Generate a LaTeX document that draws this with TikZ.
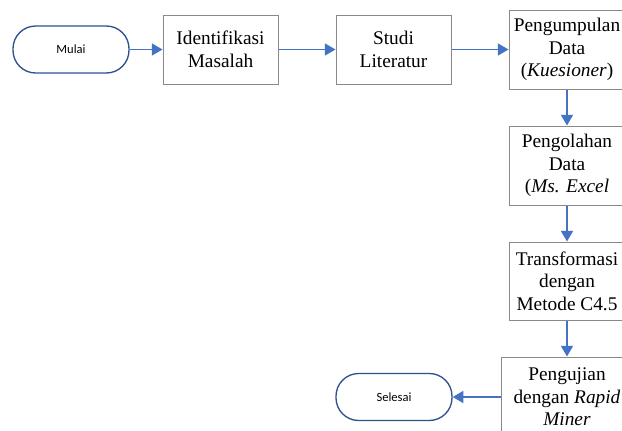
\documentclass[tikz,border=0pt]{standalone}
\usepackage{fontspec}
\setmainfont{Liberation Serif}
\newfontfamily\calib{Carlito}
\usetikzlibrary{arrows.meta}
\definecolor{arrowblue}{RGB}{68,114,196}
\definecolor{termblue}{RGB}{47,82,143}
\definecolor{boxgray}{RGB}{137,137,137}
\begin{document}
\begin{tikzpicture}[x=0.75pt,y=-0.75pt,
  procbox/.style={draw=boxgray,line width=0.75pt,fill=white,align=center,inner sep=0pt,
    font=\fontsize{14.5pt}{17pt}\selectfont},
  termbox/.style={draw=termblue,line width=1pt,rounded corners=17pt,fill=white,
    minimum width=116*0.75pt,minimum height=47*0.75pt,inner sep=0pt,
    font=\calib\fontsize{9.4pt}{11pt}\selectfont},
  flow/.style={draw=arrowblue,line width=1.2pt,-{Triangle[length=8pt,width=9pt]}}]
\useasboundingbox (0,0) rectangle (622,430);
\clip (0,0) rectangle (622,430);
\fill[white] (0,0) rectangle (622,430);
\node[termbox] (mulai) at (71,49.5) {Mulai};
\node[procbox,minimum width=115*0.75pt,minimum height=69*0.75pt] (ident) at (220.5,49.5) {Identifikasi\\Masalah};
\node[procbox,minimum width=115*0.75pt,minimum height=69*0.75pt] (studi) at (393.5,49.5) {Studi\\Literatur};
\node[procbox,minimum width=116*0.75pt,minimum height=79*0.75pt] (kump) at (567,49.5) {Pengumpulan\\Data\\(\textit{Kuesioner})};
\node[procbox,minimum width=116*0.75pt,minimum height=79*0.75pt] (olah) at (567,165.5) {Pengolahan\\Data\\(\textit{Ms. Excel}};
\node[procbox,minimum width=116*0.75pt,minimum height=78*0.75pt] (trans) at (567,281) {Transformasi\\dengan\\Metode C4.5};
\node[procbox,minimum width=132*0.75pt,minimum height=80*0.75pt] (uji) at (567,397) {Pengujian\\dengan \textit{Rapid}\\\textit{Miner}};
\node[termbox] (selesai) at (394,397) {Selesai};
\draw[flow] (mulai) -- (ident);
\draw[flow] (ident) -- (studi);
\draw[flow] (studi) -- (kump);
\draw[flow] (kump) -- (olah);
\draw[flow] (olah) -- (trans);
\draw[flow] (trans) -- (uji);
\draw[flow] (uji) -- (selesai);
\end{tikzpicture}
\end{document}
